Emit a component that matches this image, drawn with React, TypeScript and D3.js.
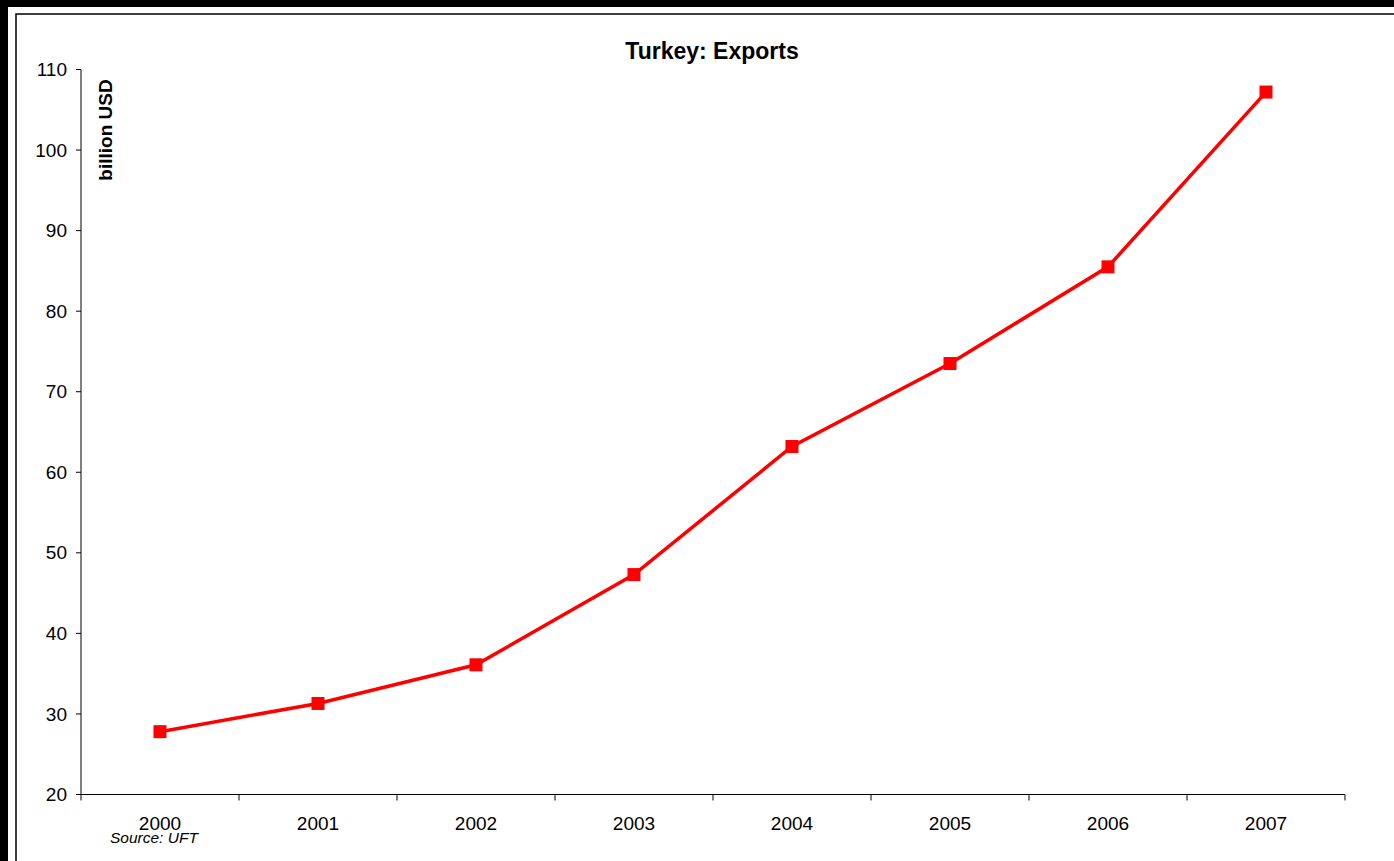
import React from "react";
import * as d3 from "d3";

const years = ["2000", "2001", "2002", "2003", "2004", "2005", "2006", "2007"];
const exportsValues = [27.8, 31.3, 36.1, 47.3, 63.2, 73.5, 85.5, 107.2];
const yTicks = [20, 30, 40, 50, 60, 70, 80, 90, 100, 110];

const W = 1394;
const H = 861;
const left = 81;
const right = 1345;
const top = 69.5;
const bottom = 794.5;
const font = "'Liberation Sans', Arial, Helvetica, sans-serif";

export default function App() {
  const x = d3.scaleBand<string>().domain(years).range([left, right]);
  const y = d3.scaleLinear().domain([20, 110]).range([bottom, top]);
  const line = d3
    .line<number>()
    .x((_, i) => (x(years[i]) as number) + x.bandwidth() / 2)
    .y((d) => y(d));
  const boundaries = [...years.map((yr) => x(yr) as number), right];

  return (
    <svg
      width={W}
      height={H}
      style={{ position: "absolute", left: 0, top: 0, display: "block" }}
      fontFamily={font}
    >
      <rect x={0} y={0} width={W} height={H} fill="#000" />
      <rect x={8} y={7} width={W} height={H} fill="#fff" />
      <rect x={16} y={14} width={W + 10} height={H + 10} fill="none" stroke="#000" strokeWidth={1.5} />

      <text x={712} y={58.5} textAnchor="middle" fontSize={23} fontWeight="bold">
        Turkey: Exports
      </text>

      <text
        transform={`translate(111.5,130) rotate(-90)`}
        textAnchor="middle"
        fontSize={19}
        fontWeight="bold"
      >
        billion USD
      </text>

      {/* Y axis */}
      <line x1={left} x2={left} y1={top} y2={bottom} stroke="#000" strokeWidth={1} />
      {yTicks.map((t) => (
        <g key={t}>
          <line x1={left - 5} x2={left} y1={y(t)} y2={y(t)} stroke="#000" strokeWidth={1} />
          <text x={left - 14} y={y(t)} dy="0.35em" textAnchor="end" fontSize={19}>
            {t}
          </text>
        </g>
      ))}

      {/* X axis */}
      <line x1={left} x2={right} y1={bottom} y2={bottom} stroke="#000" strokeWidth={1} />
      {boundaries.map((b, i) => (
        <line key={i} x1={b} x2={b} y1={bottom} y2={bottom + 6} stroke="#000" strokeWidth={1} />
      ))}
      {years.map((yr) => (
        <text
          key={yr}
          x={(x(yr) as number) + x.bandwidth() / 2}
          y={830}
          textAnchor="middle"
          fontSize={19}
        >
          {yr}
        </text>
      ))}

      <text x={110} y={842.5} fontSize={15.5} fontStyle="italic">
        Source: UFT
      </text>

      <path d={line(exportsValues) || ""} fill="none" stroke="#ff0000" strokeWidth={3.5} />
      {exportsValues.map((v, i) => (
        <rect
          key={i}
          x={(x(years[i]) as number) + x.bandwidth() / 2 - 6.5}
          y={y(v) - 6.5}
          width={13}
          height={13}
          fill="#ff0000"
        />
      ))}
    </svg>
  );
}
